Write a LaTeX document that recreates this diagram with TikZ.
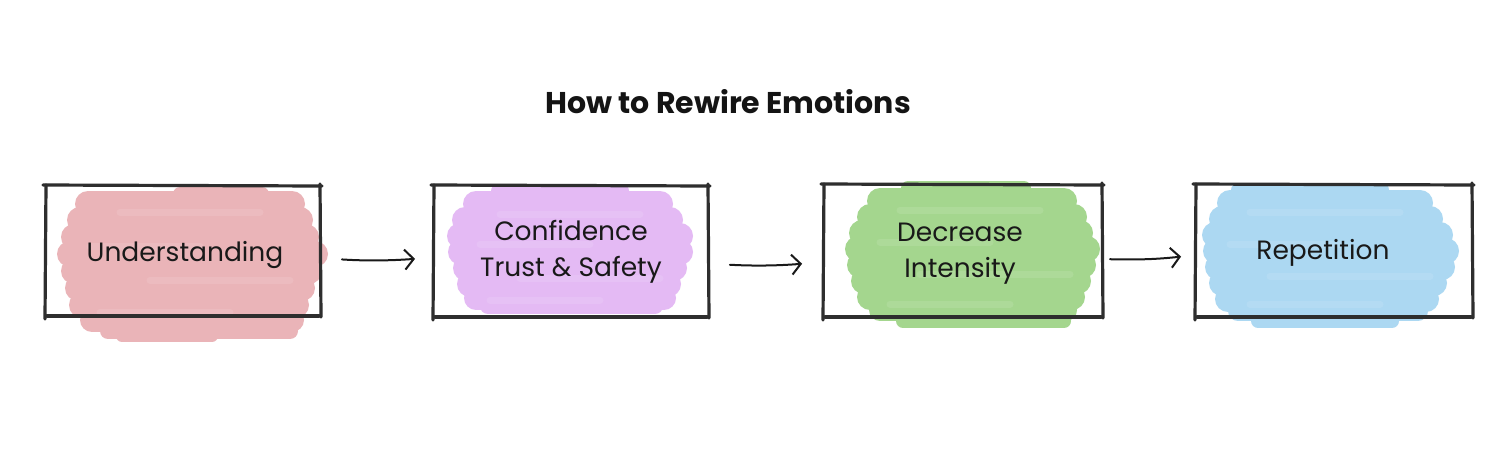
\documentclass[tikz,border=0pt]{standalone}
\usepackage{fontspec}
\setmainfont{Poppins}
\usetikzlibrary{arrows.meta}
\definecolor{pinkb}{RGB}{234,180,184}
\definecolor{purpb}{RGB}{228,186,244}
\definecolor{greenb}{RGB}{164,214,142}
\definecolor{blueb}{RGB}{172,216,242}
\tikzset{
  boxarea/.style={inner sep=0pt, outer sep=0pt, minimum width=#1},
  sketch/.style={line width=3.2pt, draw=black!82, line cap=round},
  label/.style={font=\fontsize{26.5}{36}\selectfont, align=center, text=black!90},
  conn/.style={line width=2pt, draw=black!90, line cap=round,
    -{Straight Barb[length=9pt, width=20pt, line width=2pt]}},
}
\newcommand\myblob[2]{%
  \foreach \yy/\xa/\xb/\ww in {#2} {
    \draw[draw=#1, line cap=round, line width=\ww pt] (\xa,\yy) -- (\xb,\yy);
  }%
}
\newcommand\streaks[1]{%
  \foreach \yy/\xa/\xb in {#1} {
    \draw[draw=white, opacity=0.1, line cap=round, line width=7pt] (\xa,\yy) -- (\xb,\yy);
  }%
}
\newcommand\mybox[1]{%
  \draw[sketch] ([xshift=-2pt,yshift=1pt]#1.north west) -- ([xshift=2pt]#1.north east);
  \draw[sketch] ([yshift=2pt]#1.north east) -- ([xshift=1pt,yshift=-1pt]#1.south east);
  \draw[sketch, line width=3.6pt] ([xshift=-1pt]#1.south east) -- ([xshift=2pt]#1.south west);
  \draw[sketch] ([yshift=-3pt]#1.south west) -- ([xshift=1pt,yshift=1pt]#1.north west);
}
\begin{document}
\begin{tikzpicture}[x=1pt, y=-1pt]
\useasboundingbox (0,0) rectangle (1494,456);
\fill[white] (0,0) rectangle (1494,456);

% box areas
\node[boxarea=275pt, minimum height=130pt] (b1) at (182.5,251) {};
\node[boxarea=275pt, minimum height=131pt] (b2) at (570.5,251.5) {};
\node[boxarea=279pt, minimum height=132pt] (b3) at (962.5,251) {};
\node[boxarea=277pt, minimum height=132pt] (b4) at (1333.5,251) {};

% brush blobs
\myblob{pinkb}{194/180/262/14, 204/88/292/26, 220/80/300/26, 237/74/306/26, 254/70/315/26, 271/74/309/26, 288/78/302/26, 305/82/296/26, 320/92/292/24, 331/108/290/16, 336/122/212/12}
\myblob{purpb}{191/498/622/14, 204/476/660/26, 220/465/670/26, 236/460/680/26, 252/461/680/26, 268/466/674/26, 284/470/668/26, 298/476/664/24, 306/488/655/16}
\myblob{greenb}{188/908/1024/14, 201/880/1064/26, 217/870/1074/26, 233/862/1080/26, 249/858/1087/26, 265/860/1083/26, 281/864/1078/26, 297/870/1072/26, 310/880/1066/22, 321/903/1064/14}
\myblob{blueb}{190/1238/1382/14, 203/1230/1420/26, 219/1222/1430/26, 235/1215/1440/26, 251/1216/1446/26, 267/1218/1442/26, 283/1222/1434/26, 299/1228/1426/26, 311/1238/1418/20, 321/1258/1392/14}
\streaks{212/120/260, 246/90/200, 280/150/290, 312/100/230}
\streaks{214/500/640, 244/480/590, 278/520/660, 300/490/600}
\streaks{210/900/1040, 242/880/990, 274/920/1070, 304/890/1010}
\streaks{212/1250/1400, 244/1230/1340, 276/1270/1430, 304/1250/1380}

% borders
\mybox{b1}
\mybox{b2}
\mybox{b3}
\mybox{b4}

% title
\node[font=\fontsize{30}{34}\selectfont\bfseries, text=black!92] (title) at (728,102) {How to Rewire Emotions};

% labels
\node[label] (t1) at (185,255) {Understanding};
\node[label] (t2) at (571,252) {Confidence\\Trust \& Safety};
\node[label] (t3) at (960,254) {Decrease\\Intensity};
\node[label] (t4) at (1323,253) {Repetition};

% connectors
\draw[conn, shorten <=22pt, shorten >=18pt] ([yshift=-7pt]b1.east) to[bend right=4] ([yshift=-6pt]b2.west);
\draw[conn, shorten <=22pt, shorten >=21pt] ([yshift=-12pt]b2.east) to[bend right=4] ([yshift=-11pt]b3.west);
\draw[conn, shorten <=8pt, shorten >=14pt] ([yshift=-8pt]b3.east) to[bend right=4] ([yshift=-4pt]b4.west);
\end{tikzpicture}
\end{document}
